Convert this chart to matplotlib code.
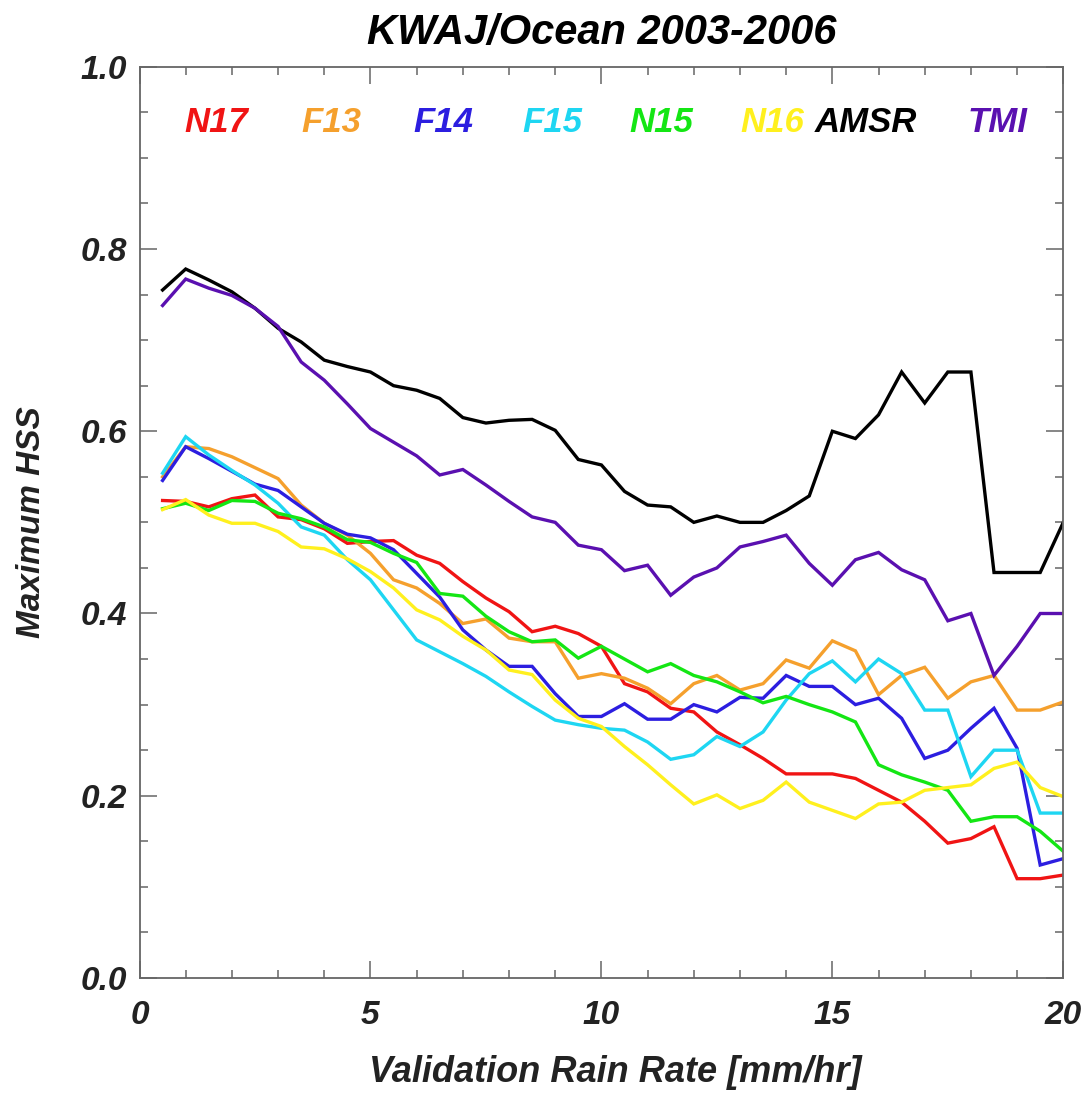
import numpy as np
import matplotlib
matplotlib.use("Agg")
import matplotlib.pyplot as plt
from matplotlib.ticker import MultipleLocator

plt.rcParams['font.family'] = ['Liberation Sans', 'DejaVu Sans']

# validation rain rate bins [mm/hr]
rain_rate = np.arange(1, 41) * 0.5

n17 = [0.524, 0.523, 0.517, 0.526, 0.530, 0.506, 0.503, 0.493, 0.477, 0.479,
       0.480, 0.464, 0.455, 0.435, 0.417, 0.402, 0.380, 0.386, 0.378, 0.364,
       0.323, 0.314, 0.296, 0.292, 0.270, 0.256, 0.241, 0.224, 0.224, 0.224,
       0.219, 0.206, 0.193, 0.172, 0.148, 0.153, 0.166, 0.109, 0.109, 0.113]
f13 = [0.550, 0.583, 0.581, 0.572, 0.560, 0.548, 0.519, 0.499, 0.486, 0.466,
       0.437, 0.428, 0.411, 0.389, 0.394, 0.373, 0.369, 0.369, 0.329, 0.334,
       0.329, 0.318, 0.301, 0.323, 0.332, 0.316, 0.323, 0.349, 0.340, 0.370,
       0.359, 0.311, 0.332, 0.341, 0.307, 0.325, 0.332, 0.294, 0.294, 0.303]
f14 = [0.546, 0.583, 0.570, 0.556, 0.542, 0.535, 0.517, 0.499, 0.487, 0.483,
       0.470, 0.444, 0.418, 0.382, 0.360, 0.342, 0.342, 0.312, 0.287, 0.287,
       0.301, 0.284, 0.284, 0.300, 0.292, 0.308, 0.307, 0.332, 0.320, 0.320,
       0.300, 0.307, 0.285, 0.241, 0.250, 0.274, 0.296, 0.252, 0.124, 0.131]
f15 = [0.554, 0.594, 0.574, 0.557, 0.541, 0.521, 0.495, 0.486, 0.459, 0.437,
       0.404, 0.371, 0.358, 0.345, 0.331, 0.314, 0.298, 0.283, 0.278, 0.274,
       0.272, 0.259, 0.240, 0.245, 0.265, 0.254, 0.270, 0.305, 0.334, 0.348,
       0.325, 0.350, 0.334, 0.294, 0.294, 0.221, 0.250, 0.250, 0.181, 0.181]
n15 = [0.515, 0.521, 0.513, 0.524, 0.523, 0.510, 0.504, 0.495, 0.481, 0.478,
       0.466, 0.456, 0.422, 0.419, 0.397, 0.380, 0.369, 0.371, 0.351, 0.364,
       0.350, 0.336, 0.345, 0.332, 0.325, 0.314, 0.302, 0.309, 0.300, 0.292,
       0.281, 0.234, 0.223, 0.215, 0.206, 0.172, 0.177, 0.177, 0.161, 0.139]
n16 = [0.514, 0.525, 0.508, 0.499, 0.499, 0.490, 0.473, 0.471, 0.460, 0.446,
       0.428, 0.404, 0.393, 0.375, 0.360, 0.338, 0.333, 0.305, 0.285, 0.276,
       0.254, 0.234, 0.212, 0.191, 0.201, 0.186, 0.195, 0.215, 0.193, 0.184,
       0.175, 0.191, 0.193, 0.206, 0.209, 0.212, 0.230, 0.237, 0.209, 0.199]
amsr = [0.755, 0.778, 0.766, 0.753, 0.735, 0.713, 0.698, 0.678, 0.671, 0.665,
        0.650, 0.645, 0.636, 0.615, 0.609, 0.612, 0.613, 0.601, 0.569, 0.563,
        0.534, 0.519, 0.517, 0.500, 0.507, 0.500, 0.500, 0.513, 0.529, 0.600,
        0.592, 0.618, 0.665, 0.631, 0.665, 0.665, 0.445, 0.445, 0.445, 0.500]
tmi = [0.738, 0.767, 0.757, 0.749, 0.735, 0.715, 0.676, 0.656, 0.630, 0.603,
       0.588, 0.573, 0.552, 0.558, 0.541, 0.523, 0.506, 0.500, 0.475, 0.470,
       0.447, 0.453, 0.420, 0.440, 0.450, 0.473, 0.479, 0.486, 0.455, 0.431,
       0.459, 0.467, 0.448, 0.437, 0.392, 0.400, 0.332, 0.364, 0.400, 0.400]

names = ['N17', 'F13', 'F14', 'F15', 'N15', 'N16', 'AMSR', 'TMI']
colors = ['#f01414', '#f5a02d', '#2c1ee0', '#1ed6f2', '#14e614', '#fff01e', '#000000', '#5a10b0']
label_x = [0.98, 3.51, 5.92, 8.30, 10.6, 13.0, 14.62, 17.92]
series = [n17, f13, f14, f15, n15, n16, amsr, tmi]

fig = plt.figure(figsize=(10.89, 11.01), dpi=100)
ax = fig.add_axes([0.1281, 0.1117, 0.8483, 0.8277])

for vals, col in zip(series, colors):
    ax.plot(rain_rate, vals, color=col, lw=2.4, solid_joinstyle='miter')

for name, col, lx in zip(names, colors, label_x):
    ax.text(lx, 0.939, name, color=col, fontsize=25, fontweight='bold',
            fontstyle='italic', ha='left', va='center')

ax.set_xlim(0, 20)
ax.set_ylim(0, 1.0)
ax.xaxis.set_major_locator(MultipleLocator(5))
ax.xaxis.set_minor_locator(MultipleLocator(1))
ax.yaxis.set_major_locator(MultipleLocator(0.2))
ax.yaxis.set_minor_locator(MultipleLocator(0.05))
ax.xaxis.set_major_formatter(plt.FuncFormatter(lambda v, p: '%d' % v))
ax.yaxis.set_major_formatter(plt.FuncFormatter(lambda v, p: '%.1f' % v))

for s in ax.spines.values():
    s.set_color('#666666')
    s.set_linewidth(1.3)
ax.tick_params(which='both', direction='in', top=True, right=True,
               color='#666666', width=1.1, labelcolor='#222222')
ax.tick_params(which='major', length=12)
ax.tick_params(which='minor', length=6)
ax.tick_params(axis='x', pad=16)
ax.tick_params(axis='y', pad=9)
for lab in ax.get_xticklabels() + ax.get_yticklabels():
    lab.set_fontsize(24)
    lab.set_fontweight('bold')
    lab.set_fontstyle('italic')

ax.set_xlabel('Validation Rain Rate [mm/hr]', fontsize=26, fontweight='bold',
              fontstyle='italic', color='#222222', labelpad=17)
ax.xaxis.set_label_coords(0.515, -0.085)
ax.set_ylabel('Maximum HSS', fontsize=24, fontweight='bold',
              fontstyle='italic', color='#222222', labelpad=24)
ax.set_title('KWAJ/Ocean 2003-2006', fontsize=30, fontweight='bold',
             fontstyle='italic', pad=16)

fig.savefig('out.png', dpi=100)
